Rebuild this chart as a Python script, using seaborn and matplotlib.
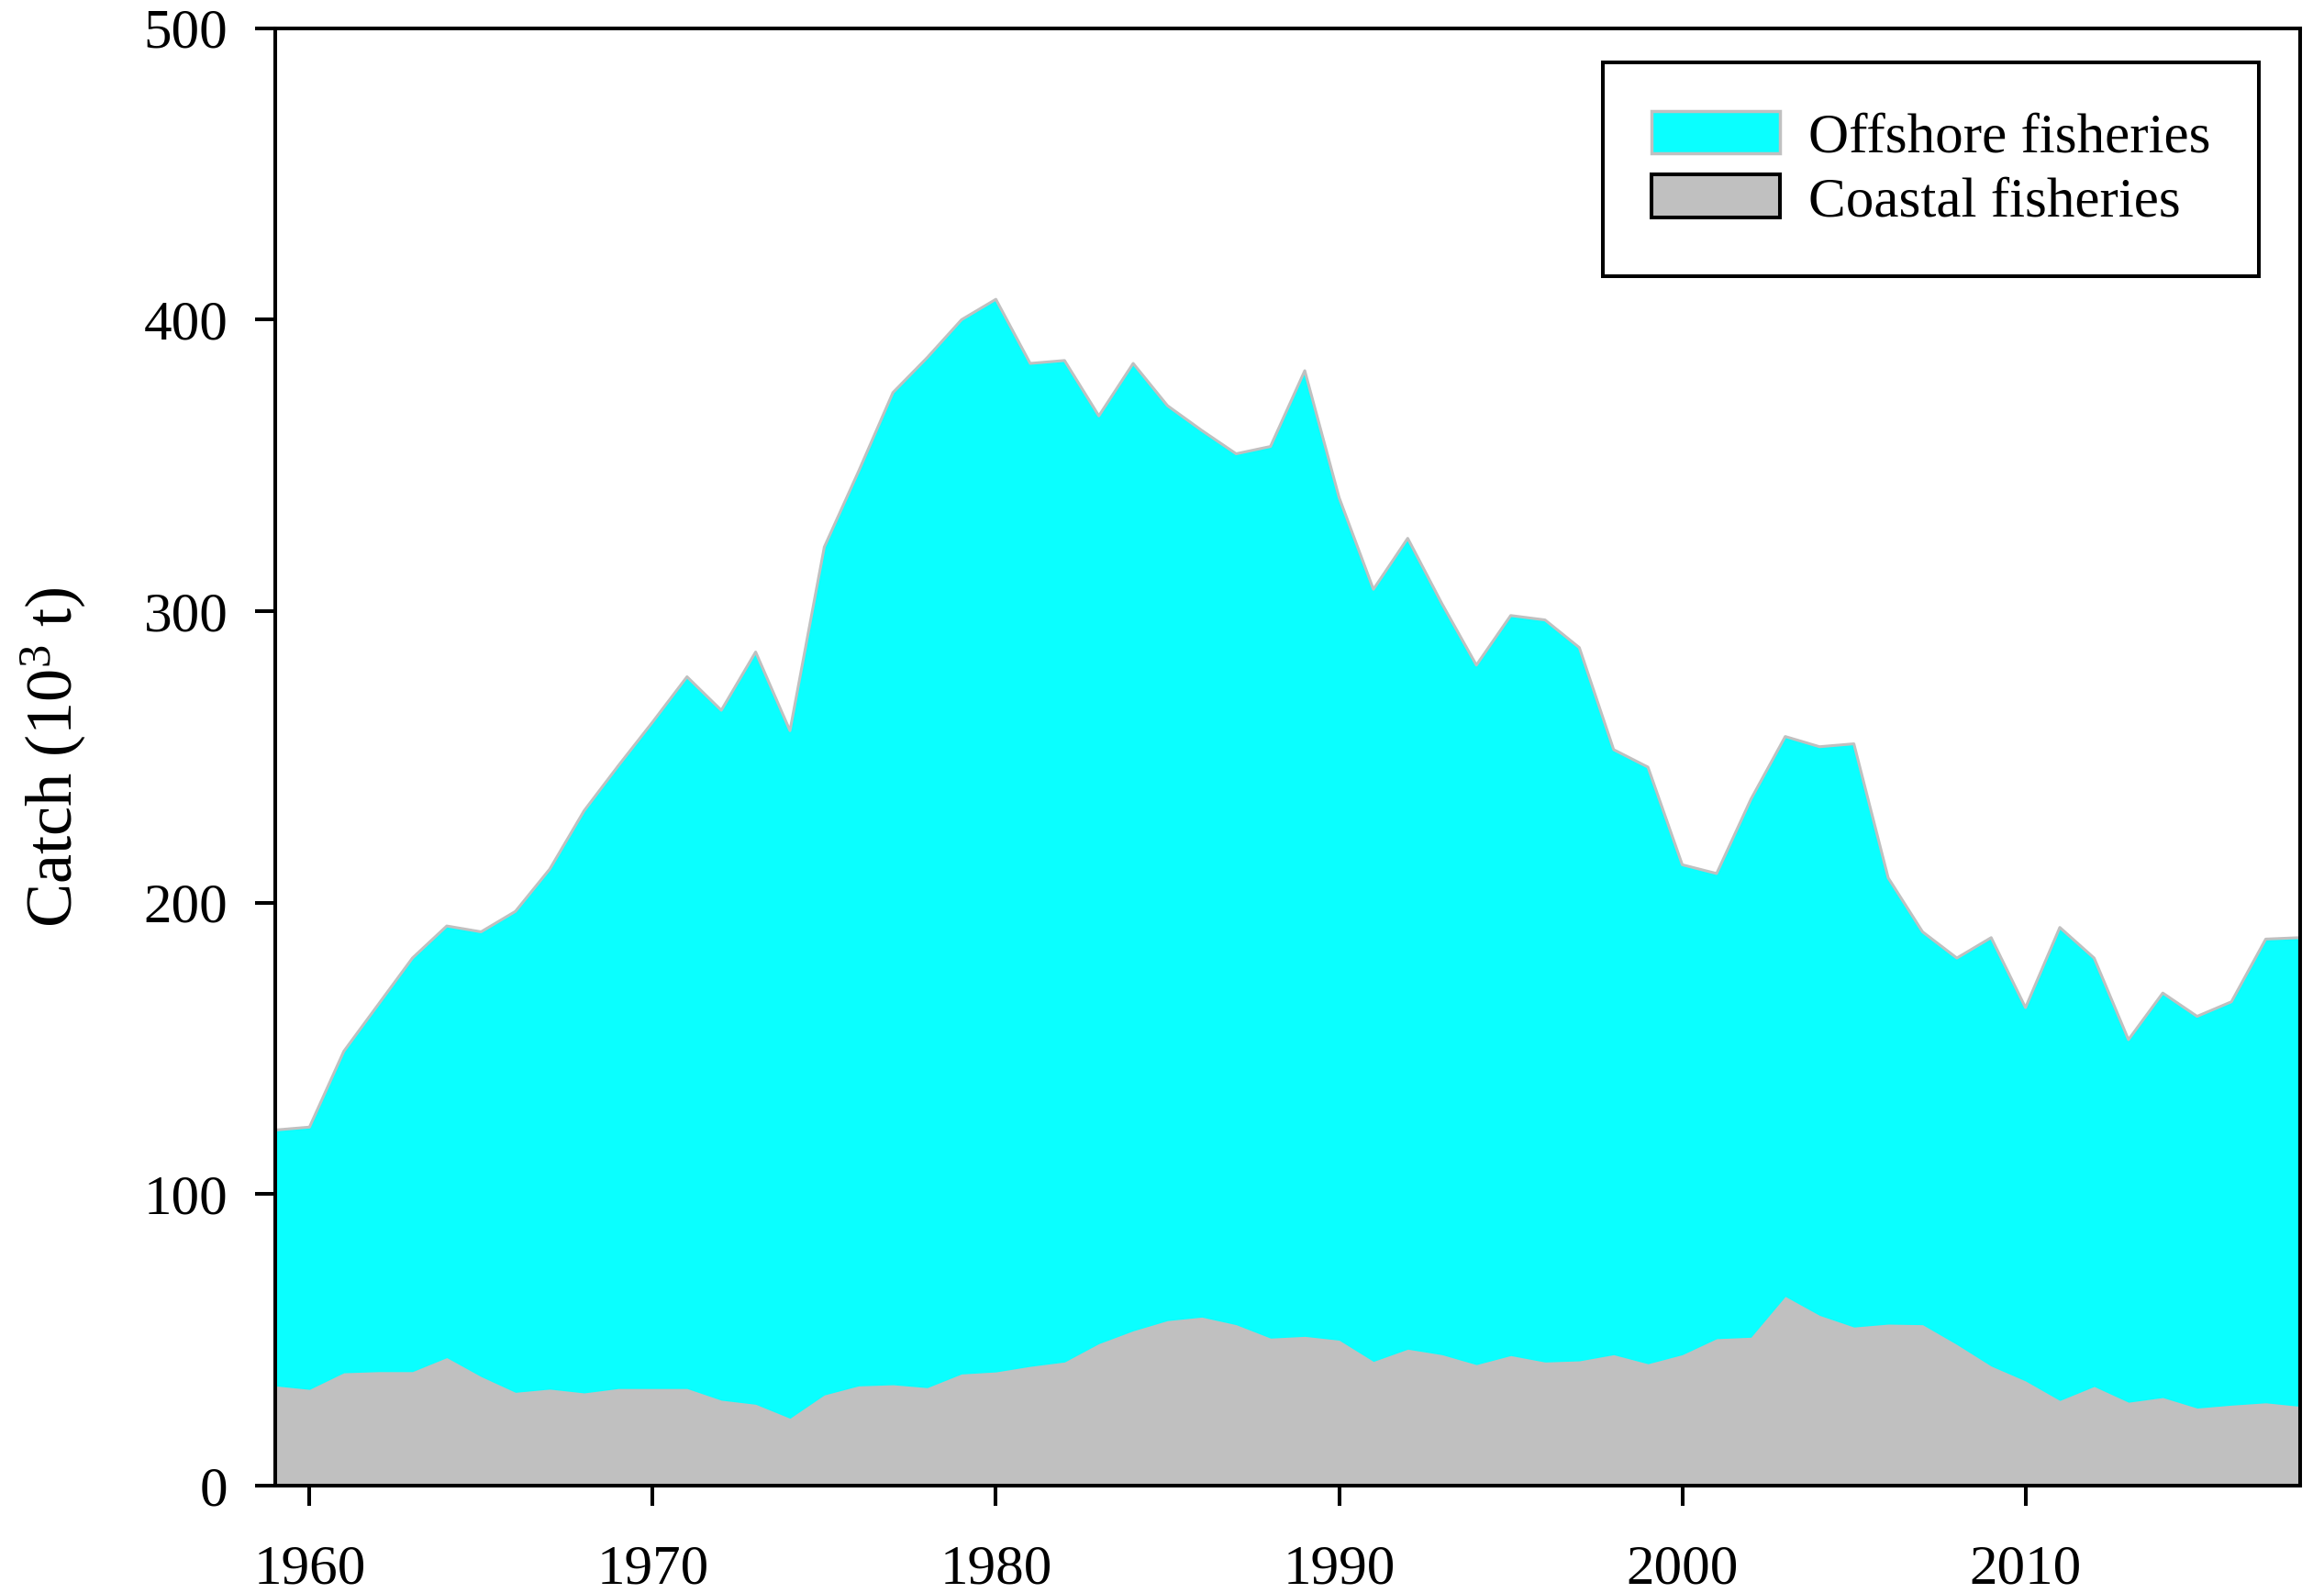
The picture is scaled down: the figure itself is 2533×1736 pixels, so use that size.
import numpy as np
import pandas as pd
import matplotlib
matplotlib.use('Agg')
import matplotlib.pyplot as plt
import matplotlib.patches as mpatches
import seaborn as sns

#%% data (10^3 t)
years = list(range(1959, 2019))
total_catch = [122, 123, 149, 165, 181, 192, 190, 197, 211.5, 231.5,
               247, 262, 277.5, 266, 286, 259, 322, 348, 375, 387,
               400, 407, 385, 386, 367, 385, 370.5, 362, 354, 356.5,
               382.5, 339, 307.5, 325, 302.5, 281.5, 298.5, 297, 287.5, 252.5,
               246.5, 213, 210, 235.5, 257, 253.5, 254.5, 208.5, 190, 181,
               188, 164, 191.5, 181, 153, 169, 161, 166, 187.5, 188]
coastal_catch = [34.2, 33, 38.7, 39.1, 39.1, 43.9, 37.4, 32, 33.1, 31.8,
                 33.3, 33.3, 33.3, 29.3, 27.9, 23.1, 31.1, 34.2, 34.6, 33.6,
                 38.3, 39, 40.9, 42.4, 48.7, 53.1, 56.6, 57.8, 55.2, 50.6,
                 51.2, 49.9, 42.6, 46.8, 44.9, 41.5, 44.6, 42.4, 42.8, 44.9,
                 41.8, 44.9, 50.4, 50.9, 64.9, 58.4, 54.4, 55.4, 55.2, 48.4,
                 41, 35.9, 29.2, 34, 28.6, 30.2, 26.6, 27.6, 28.4, 27.2]
series_names = ['Offshore fisheries', 'Coastal fisheries']
x_ticks = [1960, 1970, 1980, 1990, 2000, 2010]
y_ticks = [0, 100, 200, 300, 400, 500]

df = pd.DataFrame({'year': years, 'total': total_catch, 'coastal': coastal_catch})
df['offshore'] = df['total'] - df['coastal']

#%% style
sns.set_style('ticks')
plt.rcParams['font.family'] = ['Liberation Serif', 'DejaVu Serif']
plt.rcParams['mathtext.fontset'] = 'custom'
plt.rcParams['mathtext.rm'] = 'Liberation Serif'
plt.rcParams['mathtext.it'] = 'Liberation Serif:italic'
# seaborn greys the text, the original is plain black
for k in ['text.color', 'axes.labelcolor', 'xtick.color', 'ytick.color', 'axes.edgecolor']:
    plt.rcParams[k] = 'black'

cyan = '#0AFFFF'
grey = '#C0C0C0'

fig = plt.figure(figsize=(25.33, 17.36), dpi=100)
ax = fig.add_axes([0.1184, 0.0674, 0.9897 - 0.1184, 0.9823 - 0.0674])

# stacked areas: offshore on top of coastal
ax.fill_between(df['year'], 0, df['total'], color=cyan, linewidth=0, zorder=1)
ax.fill_between(df['year'], 0, df['coastal'], color=grey, linewidth=0, zorder=2)
sns.lineplot(data=df, x='year', y='total', color=grey, linewidth=2.2, ax=ax, zorder=3)

ax.set_xlim(1959, 2018)
ax.set_ylim(0, 500)
ax.set_xticks(x_ticks)
ax.set_yticks(y_ticks)
ax.set_xlabel('')
ax.set_ylabel('Catch (10$^3$ t)', fontsize=52, color='black')
ax.yaxis.set_label_coords(-0.0924, 0.5)

for s in ax.spines.values():
    s.set_linewidth(2.9)
    s.set_color('black')
    s.set_zorder(5)
ax.tick_params(axis='both', direction='out', length=16, width=2.9, labelsize=44,
               color='black', labelcolor='black')
ax.tick_params(axis='x', pad=30)
ax.tick_params(axis='y', pad=21)

handles = [mpatches.Patch(facecolor=cyan, edgecolor=grey, linewidth=2.5, label=series_names[0]),
           mpatches.Patch(facecolor=grey, edgecolor='black', linewidth=2.9, label=series_names[1])]
leg = ax.legend(handles=handles, loc='upper right', bbox_to_anchor=(0.9796, 0.9765),
                borderaxespad=0, fontsize=44, frameon=True, fancybox=False, framealpha=1,
                edgecolor='black', handlelength=2.3, handleheight=0.8,
                handletextpad=0.5, labelspacing=0.2, borderpad=0.86)
leg.get_frame().set_linewidth(2.9)
leg.set_zorder(6)
for t in leg.get_texts():
    t.set_color('black')

plt.savefig('out.png', dpi=100)
